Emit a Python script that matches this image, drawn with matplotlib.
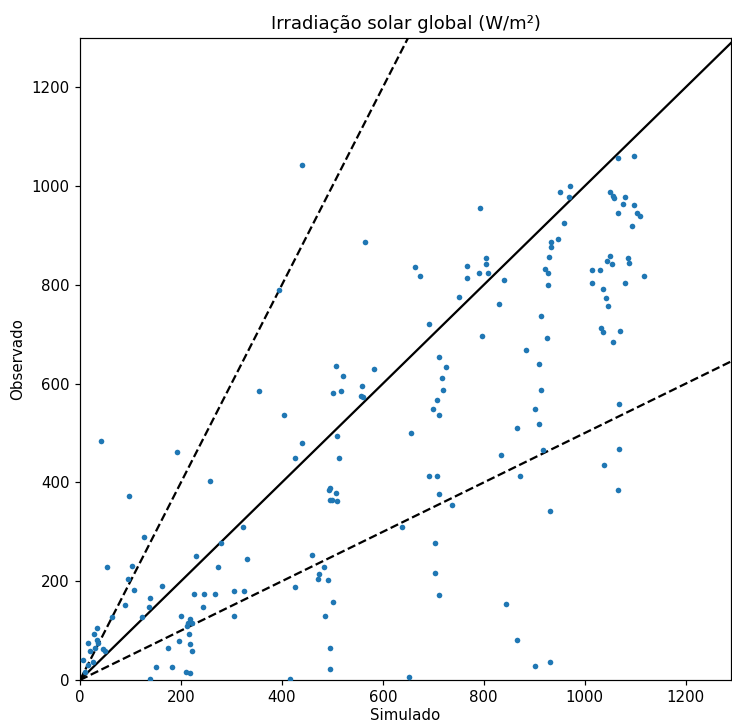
import matplotlib
matplotlib.use("Agg")
import matplotlib.pyplot as plt
import numpy as np

simulado = [5, 16, 20, 28, 33, 33, 36, 26, 16, 30, 45, 50, 10, 54, 63, 89, 96, 104, 107, 122,
            137, 139, 139, 150, 162, 174, 183, 197, 200, 211, 218, 216, 218, 221, 214, 218, 221, 212,
            226, 230, 246, 244, 267, 274, 279, 305, 305, 325, 330,
            42, 97, 127, 193, 258, 323, 355, 404, 427, 439, 395, 440, 565,
            460, 483, 474, 472, 491, 427,
            507, 521, 501, 518, 583, 559, 556, 560, 509, 513, 493, 495, 507, 495, 500, 509, 501, 486,
            495, 495, 416,
            652, 655, 711, 726, 717, 720, 708, 700, 711, 691, 691, 708, 711, 738, 638, 703, 703, 711,
            664, 673, 767, 767, 804, 804, 790, 808, 752, 830, 840, 792, 796,
            884, 909, 913, 901, 909, 866, 918, 834, 871, 931, 845, 866, 901, 931, 913, 925,
            951, 971, 968, 960, 948, 933, 933, 930, 921, 927, 927,
            1067, 1097, 1050, 1056, 1059, 1079, 1075, 1097, 1067, 1103, 1109, 1094, 1050, 1044, 1054,
            1085, 1088, 1015, 1030, 1015, 1079, 1117, 1036, 1042, 1047, 1033, 1036, 1070, 1056, 1069,
            1069, 1038, 1066]

observado = [40, 74, 59, 94, 106, 81, 74, 37, 30, 64, 62, 59, 17, 229, 127, 151, 205, 231, 183, 127,
             148, 166, 2, 26, 190, 64, 26, 79, 130, 17, 14, 94, 73, 59, 116, 123, 115, 110,
             175, 252, 175, 148, 175, 229, 277, 181, 130, 181, 246,
             483, 372, 289, 462, 403, 310, 585, 537, 450, 480, 790, 1042, 886,
             253, 229, 214, 205, 202, 188,
             635, 615, 582, 585, 629, 596, 576, 573, 494, 450, 384, 388, 378, 364, 364, 363, 157, 130,
             64, 22, 3,
             7, 501, 654, 633, 612, 587, 567, 548, 537, 720, 414, 414, 376, 354, 310, 277, 217, 172,
             836, 818, 838, 815, 854, 842, 824, 824, 776, 762, 809, 955, 696,
             668, 639, 587, 548, 519, 510, 465, 456, 414, 342, 154, 80, 29, 37, 737, 692,
             988, 1000, 979, 925, 892, 887, 876, 857, 833, 824, 800,
             1058, 1061, 988, 981, 976, 979, 964, 962, 946, 946, 940, 919, 859, 848, 842,
             854, 845, 830, 830, 803, 803, 818, 791, 773, 758, 713, 704, 707, 684, 558,
             467, 435, 384]

ref_x = [0, 1300]
x_lim = (0, 1290)
y_lim = (0, 1300)

dpi = 108
fig = plt.figure(figsize=(732 / dpi, 723 / dpi), dpi=dpi)
ax = fig.add_axes([80 / 732, 43 / 723, 651 / 732, 642 / 723])

ax.scatter(simulado, observado, s=14, color="#1f77b4", linewidths=0, zorder=3)
rx = np.array(ref_x)
ax.plot(rx, rx, color="k", lw=1.5)
ax.plot(rx, 2 * rx, color="k", lw=1.5, ls="--")
ax.plot(rx, 0.5 * rx, color="k", lw=1.5, ls="--")

ax.set_xlim(*x_lim)
ax.set_ylim(*y_lim)
ax.set_xticks([0, 200, 400, 600, 800, 1000, 1200])
ax.set_yticks([0, 200, 400, 600, 800, 1000, 1200])
ax.set_xlabel("Simulado", labelpad=2)
ax.set_ylabel("Observado")
ax.set_title("Irradiação solar global (W/m²)")

fig.savefig("out.png", dpi=dpi)
